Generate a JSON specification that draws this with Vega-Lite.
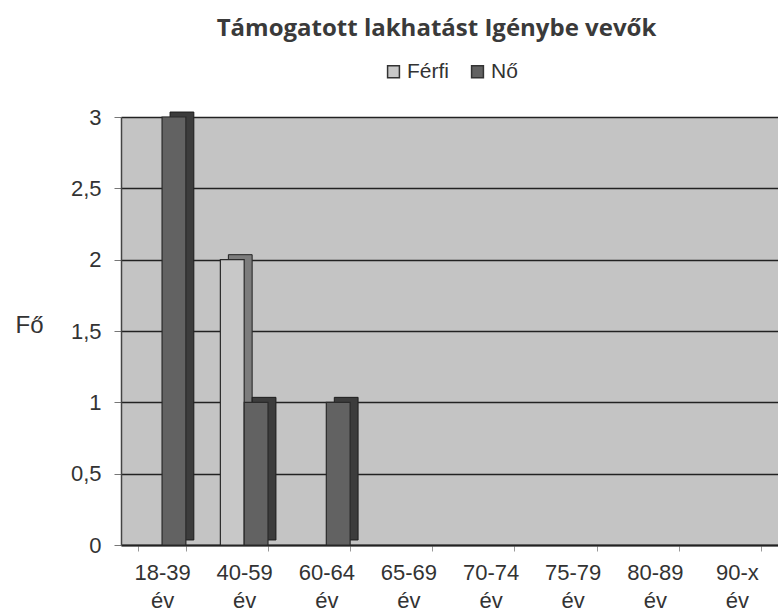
{
  "$schema": "https://vega.github.io/schema/vega-lite/v6.json",
  "width": 657,
  "height": 428,
  "autosize": "none",
  "padding": {"left": 121, "top": 117, "right": 0, "bottom": 69},
  "background": "white",
  "title": {
    "text": "Támogatott lakhatást Igénybe vevők",
    "font": "Open Sans",
    "fontSize": 24,
    "fontWeight": "bold",
    "color": "#3a3a3a",
    "anchor": "middle",
    "frame": "group",
    "dx": -13,
    "offset": 20
  },
  "data": {
    "values": [
      {"age": "18-39 év", "sex": "Férfi", "count": 0},
      {"age": "18-39 év", "sex": "Nő", "count": 3},
      {"age": "40-59 év", "sex": "Férfi", "count": 2},
      {"age": "40-59 év", "sex": "Nő", "count": 1},
      {"age": "60-64 év", "sex": "Férfi", "count": 0},
      {"age": "60-64 év", "sex": "Nő", "count": 1},
      {"age": "65-69 év", "sex": "Férfi", "count": 0},
      {"age": "65-69 év", "sex": "Nő", "count": 0},
      {"age": "70-74 év", "sex": "Férfi", "count": 0},
      {"age": "70-74 év", "sex": "Nő", "count": 0},
      {"age": "75-79 év", "sex": "Férfi", "count": 0},
      {"age": "75-79 év", "sex": "Nő", "count": 0},
      {"age": "80-89 év", "sex": "Férfi", "count": 0},
      {"age": "80-89 év", "sex": "Nő", "count": 0},
      {"age": "90-x év", "sex": "Férfi", "count": 0},
      {"age": "90-x év", "sex": "Nő", "count": 0}
    ]
  },
  "encoding": {
    "x": {
      "field": "age",
      "type": "nominal",
      "sort": null,
      "scale": {"paddingInner": 0.42, "paddingOuter": 0.21},
      "axis": {
        "title": null,
        "labelAngle": 0,
        "labelExpr": "split(datum.label, ' ')",
        "labelFont": "Liberation Sans",
        "labelFontSize": 22,
        "labelColor": "#333333",
        "labelLineHeight": 28,
        "labelPadding": 11,
        "tickBand": "extent",
        "tickSize": 6,
        "tickColor": "#999999",
        "domainColor": "#222222",
        "domainWidth": 2
      }
    },
    "y": {
      "field": "count",
      "type": "quantitative",
      "scale": {"domain": [0, 3], "nice": false},
      "axis": {
        "values": [0, 0.5, 1, 1.5, 2, 2.5, 3],
        "labelExpr": "replace(format(datum.value, '~g'), '.', ',')",
        "labelFont": "Liberation Sans",
        "labelFontSize": 22,
        "labelColor": "#333333",
        "labelPadding": 13,
        "tickSize": 7,
        "tickColor": "#777777",
        "domainColor": "#444444",
        "domainWidth": 1.5,
        "grid": true,
        "gridColor": "#222222",
        "gridWidth": 1.5,
        "title": "Fő",
        "titleAngle": 0,
        "titleX": -92,
        "titleY": 208,
        "titleAlign": "center",
        "titleBaseline": "middle",
        "titleFont": "Liberation Sans",
        "titleFontSize": 24,
        "titleFontWeight": "normal",
        "titleColor": "#333333"
      }
    },
    "color": {
      "field": "sex",
      "type": "nominal",
      "scale": {"domain": ["Férfi", "Nő"], "range": ["#c8c8c8", "#626262"]},
      "legend": {
        "title": null,
        "orient": "none",
        "direction": "horizontal",
        "legendX": 262,
        "legendY": -56,
        "symbolType": "square",
        "symbolSize": 140,
        "symbolStrokeColor": "#333333",
        "symbolStrokeWidth": 1.5,
        "labelFont": "Liberation Sans",
        "labelFontSize": 21,
        "labelColor": "#333333",
        "labelOffset": 3,
        "columnPadding": 18
      }
    }
  },
  "layer": [
    {
      "layer": [
        {
          "mark": {"type": "bar", "yOffset": -5},
          "encoding": {
            "stroke": {"condition": {"test": "datum.count > 0", "value": "#2a2a2a"}, "value": null}
          }
        },
        {
          "mark": {"type": "bar", "yOffset": -5, "fillOpacity": 0.38},
          "encoding": {
            "color": {"value": "#000000"}
          }
        }
      ],
      "encoding": {
        "xOffset": {"field": "sex", "type": "nominal", "sort": ["Férfi", "Nő"], "scale": {"range": [8, 55.6]}}
      }
    },
    {
      "mark": {"type": "bar", "strokeWidth": 1.2},
      "encoding": {
        "xOffset": {"field": "sex", "type": "nominal", "sort": ["Férfi", "Nő"]},
        "stroke": {"condition": {"test": "datum.count > 0", "value": "#2a2a2a"}, "value": null}
      }
    }
  ],
  "resolve": {"scale": {"xOffset": "independent"}},
  "config": {
    "view": {"fill": "#c4c4c4", "stroke": null}
  }
}
